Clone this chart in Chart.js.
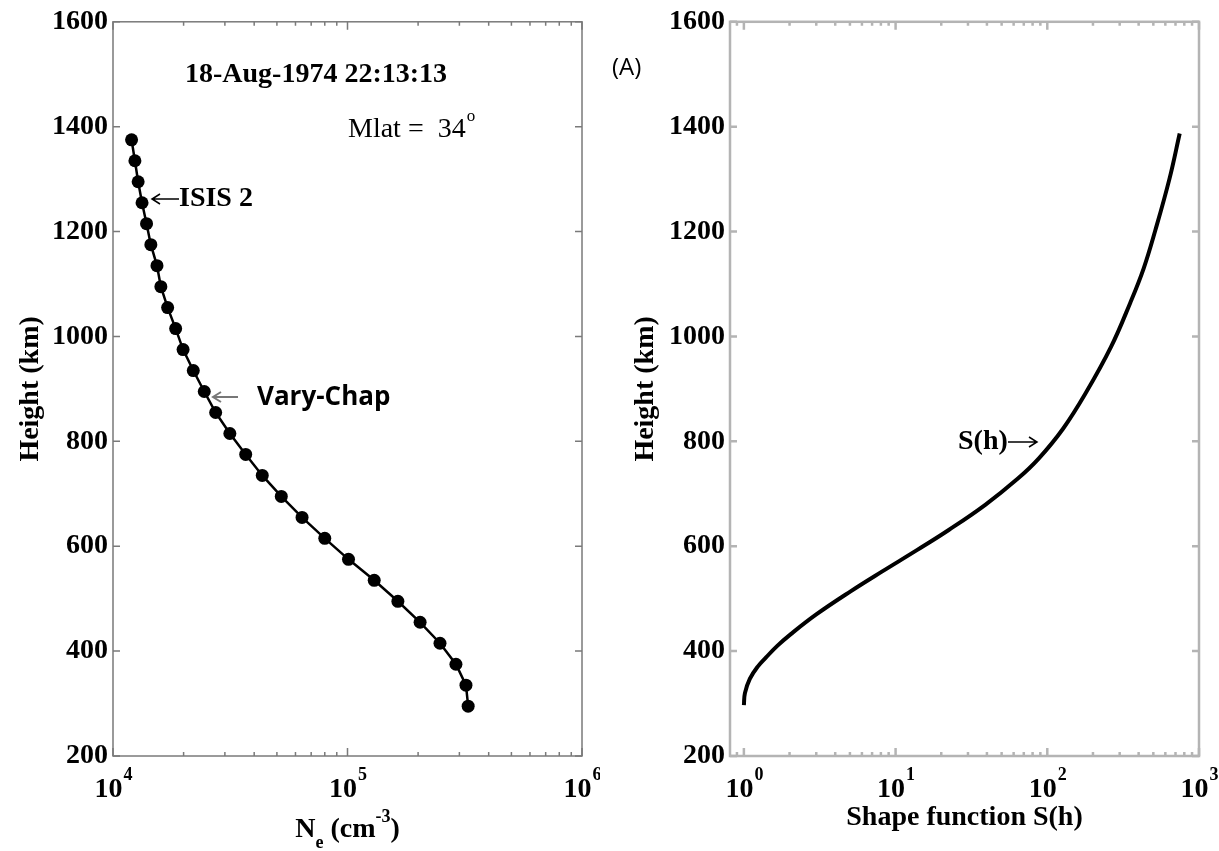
<!DOCTYPE html>
<html>
<head>
<meta charset="utf-8">
<script src="https://cdn.jsdelivr.net/npm/chart.js@4.4.1/dist/chart.umd.min.js"></script>
<style>
  body { margin: 0; background: #fff; }
  #wrap { position: relative; width: 1219px; height: 851px; }
  #neChart { position: absolute; left: 0; top: 0; }
  #shapeChart { position: absolute; left: 600px; top: 0; }
</style>
</head>
<body>
<div id="wrap">
  <canvas id="neChart" width="600" height="851"></canvas>
  <canvas id="shapeChart" width="619" height="851"></canvas>
</div>
<script>
// ISIS 2 topside profile vs Vary-Chap fit, and the shape function S(h)
const heights = [295, 335, 375, 415, 455, 495, 535, 575, 615, 655, 695, 735, 775, 815,
                 855, 895, 935, 975, 1015, 1055, 1095, 1135, 1175, 1215, 1255, 1295, 1335, 1375];
const density = [3.27e5, 3.20e5, 2.90e5, 2.48e5, 2.04e5, 1.64e5, 1.30e5, 1.01e5, 8.0e4, 6.4e4,
                 5.22e4, 4.33e4, 3.68e4, 3.15e4, 2.74e4, 2.45e4, 2.20e4, 1.99e4, 1.85e4, 1.71e4,
                 1.60e4, 1.54e4, 1.45e4, 1.39e4, 1.33e4, 1.28e4, 1.24e4, 1.20e4];

const shapeHeights = [297, 320, 347, 370, 388, 410, 432, 470, 514, 552, 593, 631, 679, 729,
                      767, 824, 893, 980, 1064, 1130, 1203, 1300, 1387];
const shapeValues = [1.0, 1.016, 1.094, 1.23, 1.40, 1.66, 2.03, 3.0, 5.05, 8.17, 13.9, 22.4, 39.0,
                     64.0, 87.7, 127, 180, 263, 352, 432, 516, 638, 746];

const heightTicks = [200, 400, 600, 800, 1000, 1200, 1400, 1600];
const neDecades = [4, 5, 6];
const shapeDecades = [0, 1, 2, 3];

const SERIF = '"Liberation Serif", "Times New Roman", serif';
const SANS = '"Open Sans", "Liberation Sans", sans-serif';

Chart.defaults.font.family = SERIF;
Chart.defaults.color = '#000';

function heightAxis(axisWidth, titlePad) {
    return {
        type: 'linear',
        min: 200,
        max: 1600,
        afterBuildTicks: s => { s.ticks = heightTicks.map(v => ({ value: v })); },
        ticks: {
            color: '#000',
            padding: 5,
            font: { family: SERIF, size: 28, weight: 'bold' },
            callback: v => String(v)
        },
        grid: { display: false, drawTicks: false },
        border: { display: false },
        title: {
            display: true,
            text: 'Height (km)',
            color: '#000',
            font: { family: SERIF, size: 28, weight: 'bold' },
            padding: { top: titlePad, bottom: 0 }
        },
        afterFit: s => { s.width = axisWidth; }
    };
}

function logAxis(min, max) {
    return {
        type: 'logarithmic',
        min: min,
        max: max,
        ticks: { display: false },
        grid: { display: false, drawTicks: false },
        border: { display: false },
        afterFit: s => { s.height = 95; }
    };
}

function arrow(ctx, x1, y, x2, color, width) {
    // straight arrow from x1 to x2, head at x2
    const dir = x2 > x1 ? 1 : -1;
    ctx.save();
    ctx.strokeStyle = color;
    ctx.lineWidth = width;
    ctx.beginPath();
    ctx.moveTo(x1, y);
    ctx.lineTo(x2, y);
    ctx.moveTo(x2 - dir * 8, y - 5);
    ctx.lineTo(x2, y);
    ctx.lineTo(x2 - dir * 8, y + 5);
    ctx.stroke();
    ctx.restore();
}

// frame, inward ticks, 10^n labels, x title and notes
function framePlugin(cfg) {
    return {
        id: 'frame',
        afterDraw(chart) {
            const { ctx, chartArea: a, scales: { x, y } } = chart;
            ctx.save();
            ctx.strokeStyle = cfg.frameColor;
            ctx.lineWidth = cfg.frameWidth;
            ctx.strokeRect(a.left, a.top, a.right - a.left, a.bottom - a.top);

            ctx.beginPath();
            heightTicks.forEach(v => {
                const py = y.getPixelForValue(v);
                ctx.moveTo(a.left, py); ctx.lineTo(a.left + 7, py);
                ctx.moveTo(a.right, py); ctx.lineTo(a.right - 7, py);
            });
            const d0 = Math.floor(Math.log10(x.min));
            const d1 = Math.ceil(Math.log10(x.max));
            for (let d = d0; d <= d1; d++) {
                for (let k = 1; k <= 9; k++) {
                    const v = k * Math.pow(10, d);
                    if (v < x.min * 0.999 || v > x.max * 1.001) continue;
                    const px = x.getPixelForValue(v);
                    const len = k === 1 ? 8 : 4;
                    ctx.moveTo(px, a.bottom); ctx.lineTo(px, a.bottom - len);
                    ctx.moveTo(px, a.top); ctx.lineTo(px, a.top + len);
                }
            }
            ctx.stroke();

            // tick labels 10^n
            ctx.fillStyle = '#000';
            ctx.textAlign = 'left';
            ctx.textBaseline = 'alphabetic';
            cfg.decades.forEach(d => {
                const px = x.getPixelForValue(Math.pow(10, d));
                ctx.font = 'bold 28px ' + SERIF;
                const wb = ctx.measureText('10').width;
                ctx.font = 'bold 18px ' + SERIF;
                const we = ctx.measureText(String(d)).width;
                const x0 = px - (wb + we) / 2;
                ctx.font = 'bold 28px ' + SERIF;
                ctx.fillText('10', x0, 797);
                ctx.font = 'bold 18px ' + SERIF;
                ctx.fillText(String(d), x0 + wb + 1, 780);
            });

            cfg.notes(ctx, a);
            ctx.restore();
        }
    };
}

const neChart = new Chart(document.getElementById('neChart'), {
    type: 'scatter',
    data: {
        datasets: [{
            data: heights.map((h, i) => ({ x: density[i], y: h })),
            showLine: true,
            borderColor: '#000',
            borderWidth: 2.5,
            pointRadius: 6.5,
            pointBackgroundColor: '#000',
            pointBorderWidth: 0
        }]
    },
    options: {
        responsive: false,
        animation: false,
        layout: { padding: { left: 0, top: 17, right: 18, bottom: 0 } },
        plugins: { legend: { display: false }, tooltip: { enabled: false } },
        scales: { x: logAxis(1e4, 1e6), y: heightAxis(113, 14) }
    },
    plugins: [framePlugin({
        frameColor: '#7a7a7a',
        frameWidth: 1.5,
        decades: neDecades,
        notes: (ctx, a) => {
            ctx.fillStyle = '#000';
            ctx.textAlign = 'left';
            ctx.font = 'bold 28px ' + SERIF;
            ctx.fillText('18-Aug-1974 22:13:13', 185, 82);
            ctx.font = '28px ' + SERIF;
            ctx.fillText('Mlat =  34', 348, 137);
            const wm = ctx.measureText('Mlat =  34').width;
            ctx.font = '17px ' + SERIF;
            ctx.fillText('o', 348 + wm + 1, 121);

            ctx.font = 'bold 28px ' + SERIF;
            ctx.fillText('ISIS 2', 179, 206);
            arrow(ctx, 179, 199, 152, '#000', 1.5);

            ctx.font = 'bold 26px ' + SANS;
            ctx.fillText('Vary-Chap', 257, 405);
            arrow(ctx, 238, 397, 213, '#777', 2);

            // x title: N_e (cm^-3)
            const cx = (a.left + a.right) / 2;
            ctx.font = 'bold 28px ' + SERIF;
            const wN = ctx.measureText('N').width;
            const wP = ctx.measureText(' (cm').width;
            const wC = ctx.measureText(')').width;
            ctx.font = 'bold 18px ' + SERIF;
            const wE = ctx.measureText('e').width;
            const wS = ctx.measureText('-3').width;
            let xx = cx - (wN + wE + wP + wS + wC) / 2;
            ctx.font = 'bold 28px ' + SERIF;
            ctx.fillText('N', xx, 837); xx += wN;
            ctx.font = 'bold 18px ' + SERIF;
            ctx.fillText('e', xx, 848); xx += wE;
            ctx.font = 'bold 28px ' + SERIF;
            ctx.fillText(' (cm', xx, 837); xx += wP;
            ctx.font = 'bold 18px ' + SERIF;
            ctx.fillText('-3', xx, 822); xx += wS;
            ctx.font = 'bold 28px ' + SERIF;
            ctx.fillText(')', xx, 837);
        }
    })]
});

const shapeChart = new Chart(document.getElementById('shapeChart'), {
    type: 'scatter',
    data: {
        datasets: [{
            data: shapeHeights.map((h, i) => ({ x: shapeValues[i], y: h })),
            showLine: true,
            borderColor: '#000',
            borderWidth: 4,
            pointRadius: 0,
            tension: 0.4,
            borderCapStyle: 'butt'
        }]
    },
    options: {
        responsive: false,
        animation: false,
        layout: { padding: { left: 0, top: 17, right: 20, bottom: 0 } },
        plugins: { legend: { display: false }, tooltip: { enabled: false } },
        scales: { x: logAxis(0.81, 1000), y: heightAxis(130, 29) }
    },
    plugins: [framePlugin({
        frameColor: '#b4b4b4',
        frameWidth: 2.5,
        decades: shapeDecades,
        notes: (ctx, a) => {
            ctx.fillStyle = '#000';
            ctx.textAlign = 'left';
            ctx.font = '24px ' + SANS;
            ctx.fillText('(A)', 12, 75);

            ctx.font = 'bold 28px ' + SERIF;
            ctx.fillText('S(h)', 358, 449);
            arrow(ctx, 408, 442, 437, '#000', 1.5);

            ctx.textAlign = 'center';
            ctx.fillText('Shape function S(h)', (a.left + a.right) / 2, 825);
        }
    })]
});
</script>
</body>
</html>
